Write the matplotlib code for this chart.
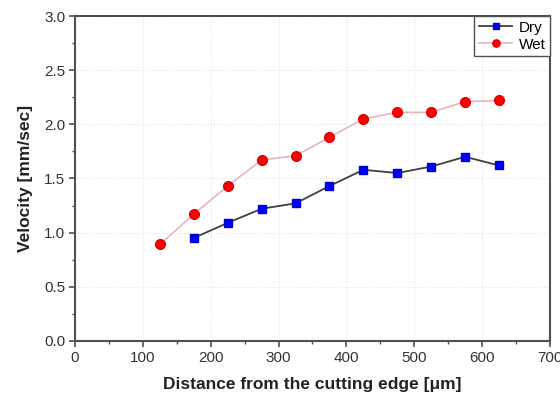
import matplotlib
matplotlib.use("Agg")
import matplotlib.pyplot as plt
from matplotlib.ticker import MultipleLocator

plt.rcParams['font.family'] = ['Liberation Sans', 'DejaVu Sans']

# data
dry_x = [175, 225, 275, 325, 375, 425, 475, 525, 575, 625]
dry_v = [0.95, 1.09, 1.22, 1.27, 1.43, 1.58, 1.55, 1.61, 1.70, 1.62]
wet_x = [125, 175, 225, 275, 325, 375, 425, 475, 525, 575, 625]
wet_v = [0.89, 1.17, 1.43, 1.67, 1.71, 1.88, 2.05, 2.11, 2.11, 2.21, 2.22]

fig = plt.figure(figsize=(5.6, 4.01), dpi=100)
ax = fig.add_axes([0.134, 0.150, 0.848, 0.810])

ax.plot(dry_x, dry_v, color='#404040', lw=1.3, marker='s', ms=6.2,
        mfc='#0000ff', mec='#0000cc', label='Dry', zorder=3)
ax.plot(wet_x, wet_v, color='#e8b4bc', lw=1.2, marker='o', ms=7,
        mfc='#ff0000', mec='#e00000', label='Wet', zorder=3)

ax.set_xlim(0, 700)
ax.set_ylim(0, 3.0)
ax.xaxis.set_major_locator(MultipleLocator(100))
ax.xaxis.set_minor_locator(MultipleLocator(50))
ax.yaxis.set_major_locator(MultipleLocator(0.5))
ax.yaxis.set_minor_locator(MultipleLocator(0.25))
ax.yaxis.set_major_formatter(plt.FuncFormatter(lambda v, p: f"{v:.1f}"))

ax.grid(True, which='major', color='#e4e4e4', ls=':', lw=0.8)
for s in ax.spines.values():
    s.set_color('#505050')
    s.set_linewidth(1.5)
ax.tick_params(which='both', direction='out', color='#505050', labelsize=11,
               labelcolor='#333333', top=False, right=False)
ax.tick_params(which='major', length=4, width=1.2, pad=3)
ax.tick_params(which='minor', length=2.5, width=1.0)

ax.set_xlabel('Distance from the cutting edge [\u03bcm]', fontsize=12.5,
              fontweight='bold', color='#222222', labelpad=9)
ax.set_ylabel('Velocity [mm/sec]', fontsize=12.5, fontweight='bold',
              color='#222222', labelpad=8)

leg = ax.legend(loc='upper right', fontsize=11, fancybox=False, framealpha=1,
                edgecolor='#505050', borderaxespad=0, handlelength=2.2,
                borderpad=0.3, labelspacing=0.2, handletextpad=0.4,
                markerscale=0.75)
leg.get_frame().set_linewidth(1.0)

fig.savefig('out.png', dpi=100)
